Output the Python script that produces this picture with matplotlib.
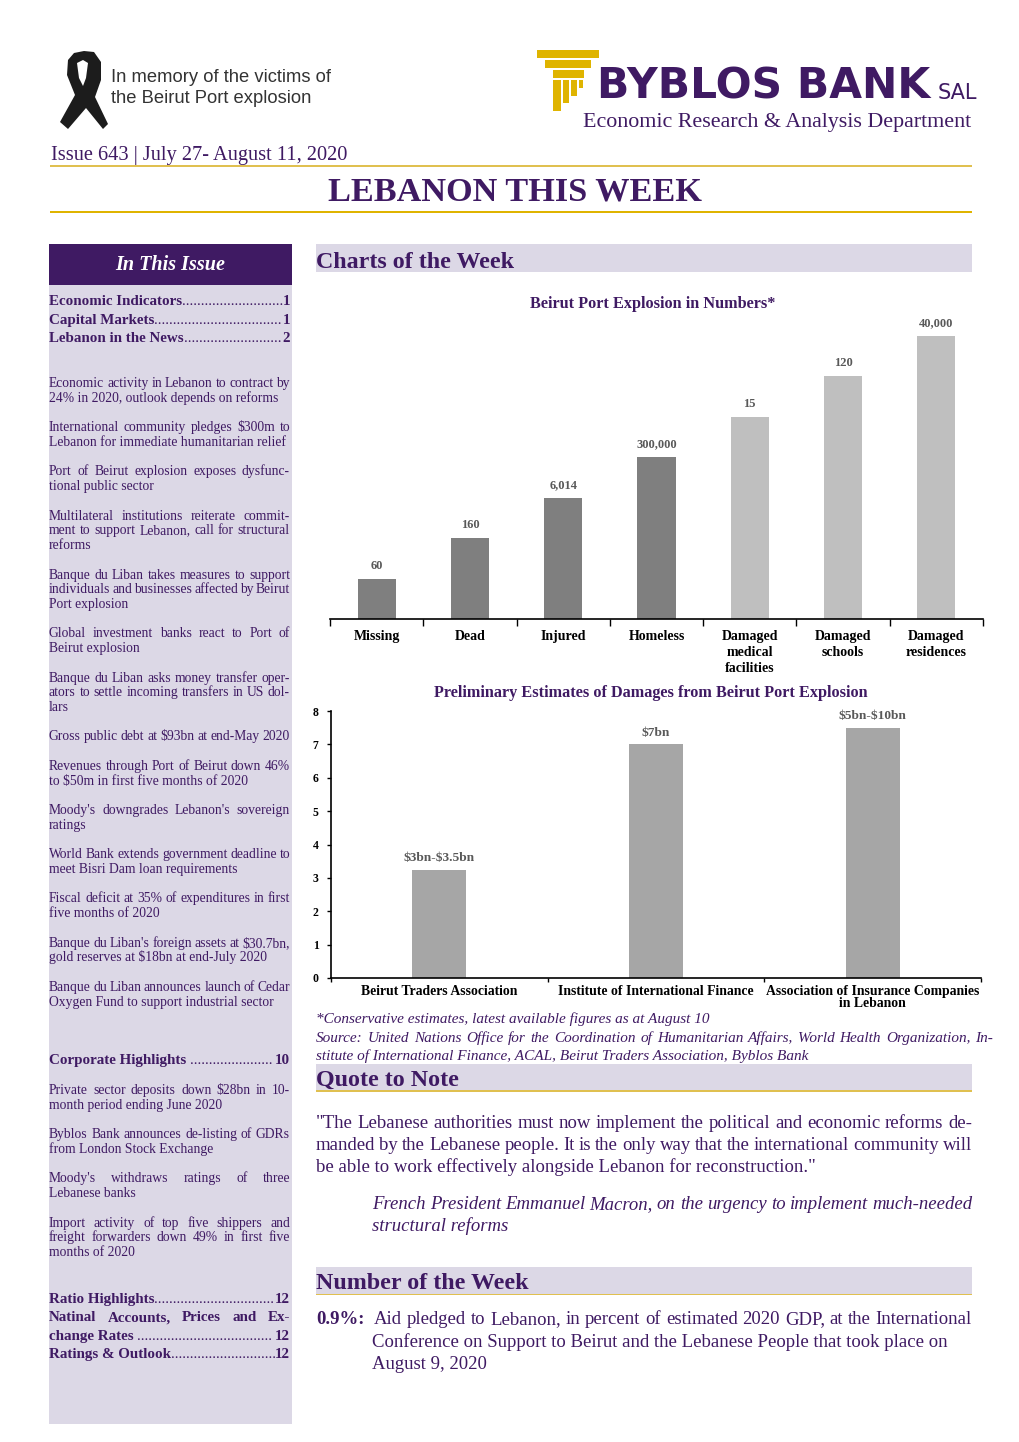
import matplotlib
matplotlib.use("Agg")
import matplotlib.pyplot as plt
from matplotlib.patches import Rectangle, Polygon

plt.rcParams['font.family'] = ['Liberation Serif', 'DejaVu Serif']

PURPLE = '#3f1a63'
LILAC = '#dcd8e6'
GOLD = '#dfb400'

# chart data. the first chart's bars are not to scale, so the heights are just read off in steps
damage_cats = ['Missing', 'Dead', 'Injured', 'Homeless', 'Damaged\nmedical\nfacilities',
               'Damaged\nschools', 'Damaged\nresidences']
damage_heights = [1, 2, 3, 4, 5, 6, 7]
damage_labels = ['60', '160', '6,014', '300,000', '15', '120', '40,000']
damage_colors = ['#7f7f7f', '#7f7f7f', '#7f7f7f', '#7f7f7f', '#bfbfbf', '#bfbfbf', '#bfbfbf']

estimate_cats = ['Beirut Traders Association', 'Institute of International Finance',
                 'Association of Insurance Companies\nin Lebanon']
estimate_values = [3.25, 7, 7.5]
estimate_labels = ['$3bn-$3.5bn', '$7bn', '$5bn-$10bn']

# sidebar text: (y, text, justified)
toc_top = [(300, 'Economic Indicators', '...........................', '1'),
           (319, 'Capital Markets', '..................................', '1'),
           (337, 'Lebanon in the News', '..........................', '2')]
toc_mid = [(1059, 'Corporate Highlights ', '......................', '10')]
toc_end = [(1298, 'Ratio Highlights', '................................', '12'),
           (1335, 'change Rates ', '....................................', '12'),
           (1353, 'Ratings & Outlook', '............................', '12')]
side_lines = [
    (382, 'Economic activity in Lebanon to contract by', True),
    (397, '24% in 2020, outlook depends on reforms', False),
    (426, 'International community pledges $300m to', True),
    (441, 'Lebanon for immediate humanitarian relief', False),
    (470, 'Port of Beirut explosion exposes dysfunc-', True),
    (485, 'tional public sector', False),
    (515, 'Multilateral institutions reiterate commit-', True),
    (529, 'ment to support Lebanon, call for structural', True),
    (544, 'reforms', False),
    (574, 'Banque du Liban takes measures to support', True),
    (588, 'individuals and businesses affected by Beirut', True),
    (603, 'Port explosion', False),
    (632, 'Global investment banks react to Port of', True),
    (647, 'Beirut explosion', False),
    (677, 'Banque du Liban asks money transfer oper-', True),
    (691, 'ators to settle incoming transfers in US dol-', True),
    (706, 'lars', False),
    (735, 'Gross public debt at $93bn at end-May 2020', True),
    (765, 'Revenues through Port of Beirut down 46%', True),
    (780, 'to $50m in first five months of 2020', False),
    (809, "Moody's downgrades Lebanon's sovereign", True),
    (824, 'ratings', False),
    (853, 'World Bank extends government deadline to', True),
    (868, 'meet Bisri Dam loan requirements', False),
    (897, 'Fiscal deficit at 35% of expenditures in first', True),
    (912, 'five months of 2020', False),
    (942, "Banque du Liban's foreign assets at $30.7bn,", True),
    (956, 'gold reserves at $18bn at end-July 2020', False),
    (986, 'Banque du Liban announces launch of Cedar', True),
    (1001, 'Oxygen Fund to support industrial sector', False),
    (1089, 'Private sector deposits down $28bn in 10-', True),
    (1104, 'month period ending June 2020', False),
    (1133, 'Byblos Bank announces de-listing of GDRs', True),
    (1148, 'from London Stock Exchange', False),
    (1177, 'Moody\'s withdraws ratings of three', True),
    (1192, 'Lebanese banks', False),
    (1222, 'Import activity of top five shippers and', True),
    (1236, 'freight forwarders down 49% in first five', True),
    (1251, 'months of 2020', False),
]

fig = plt.figure(figsize=(10.2, 14.42), dpi=100)
page = fig.add_axes([0, 0, 1, 1])
page.set_xlim(0, 1020)
page.set_ylim(1442, 0)
page.axis('off')
renderer = fig.canvas.get_renderer()


def box(x0, y0, x1, y1, color):
    page.add_patch(Rectangle((x0, y0), x1 - x0, y1 - y0, color=color, lw=0))


def put(x, y, s, size, **kw):
    # y is the middle of the line, baseline keeps words of one line level
    kw.setdefault('color', PURPLE)
    return page.text(x, y + 2 + 0.32 * size, s, fontsize=size, va='baseline', parse_math=False, **kw)


def justified(x0, x1, y, s, size, **kw):
    # spread the words so the line fills the column
    words = s.split()
    widths = []
    for w in words:
        t = put(0, 0, w, size, **kw)
        widths.append(t.get_window_extent(renderer).width)
        t.remove()
    gap = (x1 - x0 - sum(widths)) / max(len(words) - 1, 1)
    x = x0
    for w, width in zip(words, widths):
        put(x, y, w, size, **kw)
        x += width + gap


def toc_row(y, name, dots, page_no):
    t = put(49, y, name, 10.8, weight='bold')
    end = t.get_window_extent(renderer).x1
    put(end, y, dots, 10.8)
    put(290, y, page_no, 10.8, weight='bold', ha='right')


# header
ribbon_out = [(84, 51), (94, 52), (101, 62), (101, 80), (95, 97), (108, 124), (103, 129), (86, 108),
              (68, 129), (60, 122), (75, 95), (67, 75), (68, 60), (74, 53)]
page.add_patch(Polygon(ribbon_out, closed=True, color='#1c1c1c', lw=0))
page.add_patch(Polygon([(77, 63), (83, 60), (88, 63), (86, 78), (83, 86), (79, 78)], closed=True,
                       color='white', lw=0))
put(111, 76, 'In memory of the victims of', 13.2, color='#333333', family='Liberation Sans')
put(111, 97, 'the Beirut Port explosion', 13.2, color='#333333', family='Liberation Sans')

box(537, 50, 599, 58, GOLD)
box(545, 60, 591, 68, GOLD)
box(553, 70, 584, 78, GOLD)
box(553, 80, 561, 111, GOLD)
box(563, 80, 569, 103, GOLD)
box(571, 80, 577, 96, GOLD)
box(579, 80, 583, 88, GOLD)
put(597, 87, 'BYBLOS BANK', 30.5, color=PURPLE, weight='bold', family='DejaVu Sans')
put(938, 92, 'SAL', 15, color=PURPLE, family='DejaVu Sans')
put(971, 120, 'Economic Research & Analysis Department', 15.85, ha='right')

put(51, 153, 'Issue 643 | July 27- August 11, 2020', 14.7)
box(50, 165, 972, 167, '#e0c050')
put(515, 191, 'LEBANON THIS WEEK', 24.7, weight='bold', ha='center')
box(50, 211, 972, 213, GOLD)

# sidebar
box(49, 285, 292, 1424, LILAC)
box(49, 244, 292, 285, PURPLE)
put(170, 263, 'In This Issue', 14.5, color='white', style='italic', weight='bold', ha='center')
for row in toc_top + toc_mid + toc_end:
    toc_row(*row)
justified(49, 290, 1316, 'Natinal Accounts, Prices and Ex-', 10.8, weight='bold')
for y, s, just in side_lines:
    if just:
        justified(49, 290, y, s, 9.85)
    else:
        put(49, y, s, 9.85)

# section bars
for y0, y1, title, ty in [(244, 272, 'Charts of the Week', 260), (1064, 1090, 'Quote to Note', 1078),
                          (1267, 1294, 'Number of the Week', 1281)]:
    box(316, y0, 972, y1, LILAC)
    put(316, ty, title, 17.3, weight='bold')
box(316, 1090, 972, 1092, '#e0c050')
box(316, 1294, 972, 1295, '#e0c050')

put(653, 302, 'Beirut Port Explosion in Numbers*', 11.7, weight='bold', ha='center')
put(651, 691, 'Preliminary Estimates of Damages from Beirut Port Explosion', 11.7, weight='bold', ha='center')

# first chart
ax1 = fig.add_axes([330 / 1020, 1 - 619 / 1442, 653 / 1020, (619 - 336) / 1442])
pos1 = range(len(damage_cats))
ax1.bar(pos1, damage_heights, width=0.41, color=damage_colors)
ax1.set_xlim(-0.5, 6.5)
ax1.set_ylim(0, 7)
ax1.patch.set_alpha(0)
for side in ['top', 'left', 'right']:
    ax1.spines[side].set_visible(False)
ax1.spines['bottom'].set_linewidth(1.2)
ax1.set_yticks([])
ax1.set_xticks([i - 0.5 for i in range(8)])
ax1.set_xticklabels([])
ax1.tick_params(axis='x', length=5, direction='out', width=1)
for i, cat in enumerate(damage_cats):
    ax1.annotate(cat, (i, 0), xytext=(0, -8), textcoords='offset points', ha='center', va='top',
                 fontsize=10, weight='bold', linespacing=1.28)
    ax1.annotate(damage_labels[i], (i, damage_heights[i]), xytext=(0, 5), textcoords='offset points',
                 ha='center', va='bottom', fontsize=9, weight='bold', color='#595959',
                 annotation_clip=False)

# second chart
ax2 = fig.add_axes([331 / 1020, 1 - 978 / 1442, 650 / 1020, (978 - 711) / 1442])
pos2 = range(len(estimate_cats))
ax2.bar(pos2, estimate_values, width=0.25, color='#a6a6a6')
ax2.set_xlim(-0.5, 2.5)
ax2.set_ylim(0, 8)
ax2.patch.set_alpha(0)
ax2.spines['top'].set_visible(False)
ax2.spines['right'].set_visible(False)
ax2.spines['left'].set_linewidth(1.2)
ax2.spines['bottom'].set_linewidth(1.2)
ax2.set_yticks(range(9))
ax2.set_yticklabels([str(i) for i in range(9)], fontsize=8.5, weight='bold')
ax2.set_xticks([-0.5, 0.5, 1.5, 2.5])
ax2.set_xticklabels([])
ax2.tick_params(axis='both', length=3, direction='out', width=1, pad=6)
for i, cat in enumerate(estimate_cats):
    ax2.annotate(cat, (i, 0), xytext=(0, -5), textcoords='offset points', ha='center', va='top',
                 fontsize=9.9, weight='bold', linespacing=0.95)
    ax2.annotate(estimate_labels[i], (i, estimate_values[i]), xytext=(0, 4), textcoords='offset points',
                 ha='center', va='bottom', fontsize=9.6, weight='bold', color='#595959', parse_math=False)

# footnotes
put(316, 1017, '*Conservative estimates, latest available figures as at August 10', 11, style='italic')
justified(316, 993, 1036, 'Source:  United Nations Office for the Coordination of Humanitarian Affairs, World Health Organization, In-',
          11, style='italic')
put(316, 1054, 'stitute of International Finance, ACAL, Beirut Traders Association, Byblos Bank', 11, style='italic')

# quote
justified(316, 972, 1122, '"The Lebanese authorities must now implement the political and economic reforms de-', 13.5)
justified(316, 972, 1144, 'manded by the Lebanese people. It is the only way that the international community will', 13.5)
put(316, 1166, 'be able to work effectively alongside Lebanon for reconstruction."', 13.5)
justified(372, 972, 1203, 'French President Emmanuel Macron, on the urgency to implement much-needed', 13.5, style='italic')
put(372, 1225, 'structural reforms', 13.5, style='italic')

# number of the week
put(316, 1318, '0.9%:', 13.5, weight='bold')
justified(374, 972, 1318, 'Aid pledged to Lebanon, in percent of estimated 2020 GDP, at the International', 13.5)
put(372, 1341, 'Conference on Support to Beirut and the Lebanese People that took place on', 13.5)
put(372, 1363, 'August 9, 2020', 13.5)

fig.savefig('out.png', dpi=100)
